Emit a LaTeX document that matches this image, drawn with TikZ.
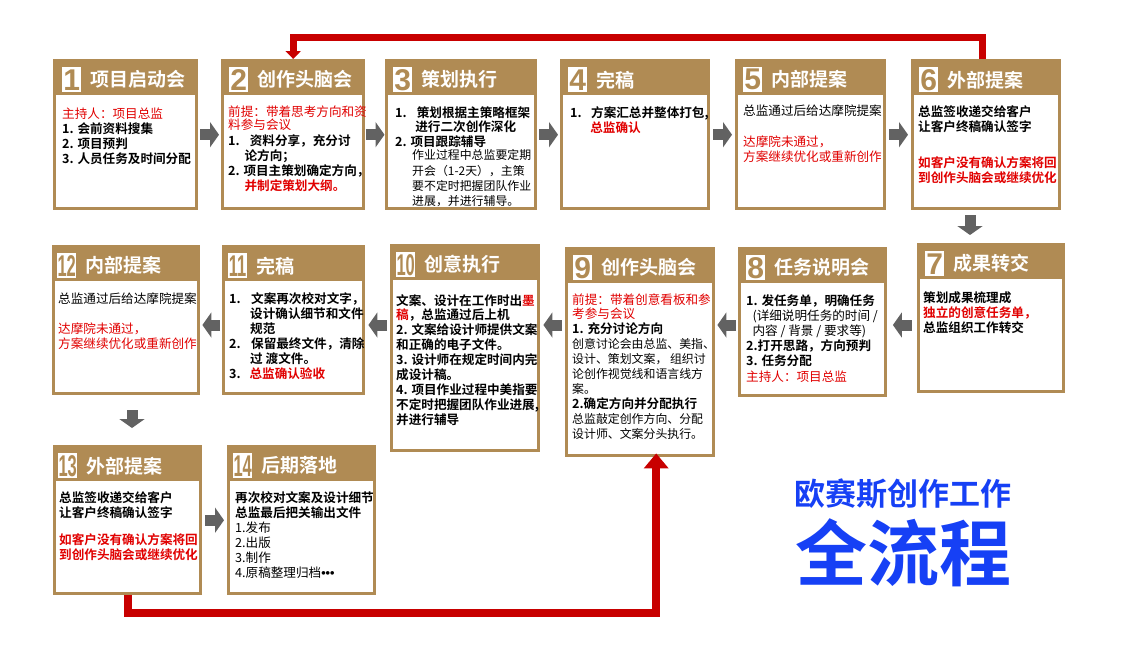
\documentclass[tikz,border=0pt]{standalone}
\usepackage{fontspec}
\usepackage{graphicx}
\setmainfont{Noto Sans CJK SC}[BoldFont={Noto Sans CJK SC Bold}]
\newfontfamily\numfont{Liberation Sans}
\usetikzlibrary{positioning,arrows.meta}

\definecolor{cardtan}{RGB}{176,139,84}
\definecolor{fcred}{RGB}{225,0,0}
\definecolor{loopred}{RGB}{200,0,0}
\definecolor{arrowgray}{RGB}{98,98,98}
\definecolor{titleblue}{RGB}{22,64,245}
\newcommand\redt[1]{{\color{fcred}#1}}
\newcommand\regtxt[1]{{\mdseries #1}}
\newcommand\regsm[1]{{\mdseries\fontsize{11.9}{15}\selectfont #1}}
\newcommand\twodig[1]{\scalebox{0.55}[1]{#1}}

\tikzset{
  card/.style={rectangle, fill=cardtan, inner sep=0pt, anchor=north west,
    path picture={\fill[white] ([shift={(3pt,-36pt)}]path picture bounding box.north west)
      rectangle ([shift={(-3pt,3pt)}]path picture bounding box.south east);}},
  numbox/.style={fill=white, minimum width=19pt, minimum height=25pt, inner sep=0pt,
    anchor=north west, text=cardtan, font=\numfont\bfseries\fontsize{30}{30}\selectfont},
  headtext/.style={text=white, inner sep=0pt, anchor=west,
    font=\bfseries\fontsize{19}{20}\selectfont},
  body/.style={anchor=north west, inner sep=0pt, align=left,
    font=\bfseries\fontsize{12.6}{15}\selectfont},
  bodyreg/.style={body, font=\fontsize{12.6}{15}\selectfont},
  garrow/.style={draw=arrowgray, line width=11pt, -{Triangle[width=25pt,length=9pt]},
    shorten <=2pt, shorten >=2pt},
  redloop/.style={draw=loopred, line width=7pt, line join=miter,
    -{Triangle[width=15pt,length=8pt]}}
}

\begin{document}
\begin{tikzpicture}[x=1pt,y=-1pt]
\useasboundingbox (0,0) rectangle (1145,649);

\node[card, minimum width=145pt, minimum height=151pt] (c1) at (53,59) {};
\node[card, minimum width=144pt, minimum height=151pt] (c2) at (221,59) {};
\node[card, minimum width=152pt, minimum height=151pt] (c3) at (385,59) {};
\node[card, minimum width=150pt, minimum height=151pt] (c4) at (560,59) {};
\node[card, minimum width=151pt, minimum height=151pt] (c5) at (735,59) {};
\node[card, minimum width=150pt, minimum height=151pt] (c6) at (911,59) {};
\node[card, minimum width=148pt, minimum height=150pt] (c7) at (917,243) {};
\node[card, minimum width=149pt, minimum height=150pt] (c8) at (738,247) {};
\node[card, minimum width=150pt, minimum height=210pt] (c9) at (565,247) {};
\node[card, minimum width=150pt, minimum height=208pt] (c10) at (390,244) {};
\node[card, minimum width=143pt, minimum height=150pt] (c11) at (222,245) {};
\node[card, minimum width=148pt, minimum height=150pt] (c12) at (52,245) {};
\node[card, minimum width=149pt, minimum height=150pt] (c13) at (53,445) {};
\node[card, minimum width=149pt, minimum height=150pt] (c14) at (227,445) {};

\node[numbox] (n1) at ([shift={(9,8)}]c1.north west) {1};
\node[numbox] (n2) at ([shift={(8,8)}]c2.north west) {2};
\node[numbox] (n3) at ([shift={(8,8)}]c3.north west) {3};
\node[numbox] (n4) at ([shift={(8,8)}]c4.north west) {4};
\node[numbox] (n5) at ([shift={(8,8)}]c5.north west) {5};
\node[numbox] (n6) at ([shift={(8,8)}]c6.north west) {6};
\node[numbox] (n7) at ([shift={(8,8)}]c7.north west) {7};
\node[numbox] (n8) at ([shift={(8,8)}]c8.north west) {8};
\node[numbox] (n9) at ([shift={(8,8)}]c9.north west) {9};
\node[numbox] (n10) at ([shift={(6,8)}]c10.north west) {\twodig{10}};
\node[numbox] (n11) at ([shift={(6,8)}]c11.north west) {\twodig{11}};
\node[numbox] (n12) at ([shift={(5,8)}]c12.north west) {\twodig{12}};
\node[numbox] (n13) at ([shift={(5,8)}]c13.north west) {\twodig{13}};
\node[numbox] (n14) at ([shift={(6,8)}]c14.north west) {\twodig{14}};

\node[headtext, right=9pt of n1] (h1) {项目启动会};
\node[headtext, right=9pt of n2] (h2) {创作头脑会};
\node[headtext, right=9pt of n3] (h3) {策划执行};
\node[headtext, right=9pt of n4] (h4) {完稿};
\node[headtext, right=9pt of n5] (h5) {内部提案};
\node[headtext, right=9pt of n6] (h6) {外部提案};
\node[headtext, right=9pt of n7] (h7) {成果转交};
\node[headtext, right=9pt of n8] (h8) {任务说明会};
\node[headtext, right=9pt of n9] (h9) {创作头脑会};
\node[headtext, right=9pt of n10] (h10) {创意执行};
\node[headtext, right=9pt of n11] (h11) {完稿};
\node[headtext, right=9pt of n12] (h12) {内部提案};
\node[headtext, right=9pt of n13] (h13) {外部提案};
\node[headtext, right=9pt of n14] (h14) {后期落地};

\node[body] (t1) at ([shift={(9,49)}]c1.north west) {\redt{\regtxt{主持人：项目总监}}\\
  1. 会前资料搜集\\
  2. 项目预判\\
  3. 人员任务及时间分配};
\node[body] (t2) at ([shift={(7,47)}]c2.north west) {\redt{\regtxt{前提：带着思考方向和资}}\\[-2pt]
  \redt{\regtxt{料参与会议}}\\[1pt]
  1.\hspace{0.8em}资料分享，充分讨\\
  \hspace*{1.3em}论方向；\\
  2. 项目主策划确定方向，\\
  \hspace*{1.3em}\redt{并制定策划大纲。}};
\node[body] (t3) at ([shift={(10,47)}]c3.north west) {1.\hspace{0.8em}策划根据主策略框架\\[-1pt]
  \hspace*{1.6em}进行二次创作深化\\
  2. 项目跟踪辅导\\[-2pt]
  \hspace*{1.35em}\regsm{作业过程中总监要定期}\\[1pt]
  \hspace*{1.35em}\regsm{开会（1-2天），主策}\\
  \hspace*{1.35em}\regsm{要不定时把握团队作业}\\
  \hspace*{1.35em}\regsm{进展，并进行辅导。}};
\node[body] (t4) at ([shift={(10,47)}]c4.north west) {1.\hspace{0.75em}方案汇总并整体打包,\\
  \hspace*{1.6em}\redt{总监确认}};
\node[bodyreg] (t5) at ([shift={(8,46)}]c5.north west) {总监通过后给达摩院提案\\[16pt]
  \redt{达摩院未通过，}\\
  \redt{方案继续优化或重新创作}};
\node[body] (t6) at ([shift={(7,46)}]c6.north west) {总监签收递交给客户\\
  让客户终稿确认签字\\[21pt]
  \redt{如客户没有确认方案将回}\\
  \redt{到创作头脑会或继续优化}};
\node[body] (t7) at ([shift={(6,48)}]c7.north west) {策划成果梳理成\\
  \redt{独立的创意任务单，}\\
  总监组织工作转交};
\node[body] (t8) at ([shift={(8,47)}]c8.north west) {1. 发任务单，明确任务\\
  \regtxt{\hspace*{0.5em}(详细说明任务的时间 /}\\
  \regtxt{\hspace*{0.5em}内容 / 背景 / 要求等)}\\
  2.打开思路，方向预判\\
  3. 任务分配\\[1pt]
  \redt{\regtxt{主持人：项目总监}}};
\node[body] (t9) at ([shift={(7,47)}]c9.north west) {\redt{\regtxt{前提：带着创意看板和参}}\\[-1pt]
  \redt{\regtxt{考参与会议}}\\
  1. 充分讨论方向\\
  \regsm{创意讨论会由总监、美指、}\\
  \regsm{设计、策划文案， 组织讨}\\
  \regsm{论创作视觉线和语言线方}\\
  \regsm{案。}\\
  2.确定方向并分配执行\\
  \regsm{总监敲定创作方向、分配}\\
  \regsm{设计师、文案分头执行。}};
\node[body] (t10) at ([shift={(6,50)}]c10.north west) {文案、设计在工作时出\redt{墨}\\[-1pt]
  \redt{稿}，总监通过后上机\\
  2. 文案给设计师提供文案\\
  和正确的电子文件。\\
  3. 设计师在规定时间内完\\
  成设计稿。\\
  4. 项目作业过程中美指要\\
  不定时把握团队作业进展,\\
  并进行辅导};
\node[body] (t11) at ([shift={(7,47)}]c11.north west) {1.\hspace{0.83em}文案再次校对文字，\\
  \hspace*{1.67em}设计确认细节和文件\\
  \hspace*{1.67em}规范\\
  2.\hspace{0.83em}保留最终文件，清除\\
  \hspace*{1.67em}过 渡文件。\\
  3.\hspace{0.7em}\redt{总监确认验收}};
\node[bodyreg] (t12) at ([shift={(6,48)}]c12.north west) {总监通过后给达摩院提案\\[15pt]
  \redt{达摩院未通过，}\\
  \redt{方案继续优化或重新创作}};
\node[body] (t13) at ([shift={(6,46)}]c13.north west) {总监签收递交给客户\\
  让客户终稿确认签字\\[12pt]
  \redt{如客户没有确认方案将回}\\
  \redt{到创作头脑会或继续优化}};
\node[body] (t14) at ([shift={(8,46)}]c14.north west) {再次校对文案及设计细节\\
  总监最后把关输出文件\\
  \regtxt{1.发布}\\
  \regtxt{2.出版}\\
  \regtxt{3.制作}\\
  \regtxt{4.原稿整理归档{\numfont\bfseries •••}}};

\node[text=titleblue, font=\bfseries\fontsize{31}{31}\selectfont] (ttl1) at (903,494) {欧赛斯创作工作};
\node[text=titleblue, font=\bfseries\fontsize{72}{72}\selectfont] (ttl2) at (903,553) {全流程};

\coordinate (r2) at (0,325);
\coordinate (d6) at (970,0);
\coordinate (d12) at (132,0);

\draw[garrow] (c1.east) -- (c2.west);
\draw[garrow, shorten <=0.5pt, shorten >=0.5pt] (c2.east) -- (c3.west);
\draw[garrow] (c3.east) -- (c4.west);
\draw[garrow, shorten <=3pt, shorten >=3pt] (c4.east) -- (c5.west);
\draw[garrow, shorten <=3pt, shorten >=3pt] (c5.east) -- (c6.west);
\draw[garrow, shorten <=5pt, shorten >=8pt] (c6.south -| d6) -- (c7.north -| d6);
\draw[garrow, shorten <=5.5pt, shorten >=5.5pt] (c7.west |- r2) -- (c8.east |- r2);
\draw[garrow] (c8.west |- r2) -- (c9.east |- r2);
\draw[garrow, shorten <=3pt, shorten >=3pt] (c9.west |- r2) -- (c10.east |- r2);
\draw[garrow, shorten <=3pt, shorten >=3pt] (c10.west |- r2) -- (c11.east |- r2);
\draw[garrow] (c11.west |- r2) -- (c12.east |- r2);
\draw[garrow, shorten <=15pt, shorten >=17pt] (c12.south -| d12) -- (c13.north -| d12);
\draw[garrow, shorten <=3pt, shorten >=3pt] (c13.east) -- (c14.west);

\draw[redloop] ([shift={(-4,0)}]c6.north) -- ++(0,-22) -| (c2.north);
\draw[redloop, line width=8pt, -{Triangle[width=24pt,length=15pt]}, shorten >=-4pt]
  (c13.south) -- ++(0,18) -| ([shift={(16,0)}]c9.south);
\end{tikzpicture}
\end{document}
